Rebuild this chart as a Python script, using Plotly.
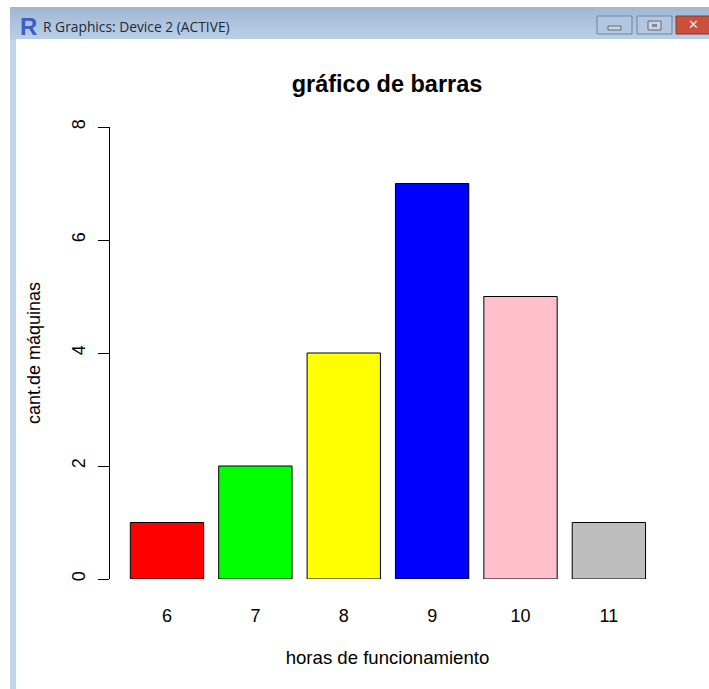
import plotly.graph_objects as go

hours = ["6", "7", "8", "9", "10", "11"]
machines = [1, 2, 4, 7, 5, 1]
colors = ["#ff0000", "#00ff00", "#ffff00", "#0000ff", "#ffc0cb", "#bebebe"]
y_ticks = [0, 2, 4, 6, 8]
chart_title = "gráfico de barras"
x_title = "horas de funcionamiento"
y_title = "cant.de máquinas"
window_title = "R Graphics: Device 2 (ACTIVE)"

W, H = 709, 689
L, R, T, B = 110, 44, 127, 110
FONT = "Liberation Sans, Arial, sans-serif"

def px(x):
    return (x - L) / (W - L - R)

def py(y):
    return 1 - (y - T) / (H - T - B)

def rect(x0, y0, x1, y1, fill, line=None, width=1):
    return dict(type="rect", xref="paper", yref="paper", x0=px(x0), x1=px(x1), y0=py(y0), y1=py(y1),
                fillcolor=fill, line=dict(color=line or fill, width=width if line else 0), layer="below")

shapes = [rect(10, 7, 16, 689, "#bcd4ec")]
# title bar gradient
bar_cols = ["#a3b9d3", "#a6bcd6", "#a9bfd9", "#acc2dc", "#afc5df", "#b2c8e2", "#b5cbe5", "#b8cee8"]
for i, c in enumerate(bar_cols):
    shapes.append(rect(10, 7 + i * 4, 709, 7 + (i + 1) * 4, c))
# window buttons
shapes += [
    rect(597, 16, 632, 34, "#b3c8e0", "#6f83a0"),
    rect(637, 16, 672, 34, "#b3c8e0", "#6f83a0"),
    rect(676, 16, 712, 34, "#c8503c", "#8a3a30"),
    rect(608, 26, 621, 30, "#d0d4da", "#5f6b7c"),
    rect(648, 21, 661, 30, "#d0d4da", "#5f6b7c"),
    rect(652, 24, 657, 27, "#7d8ba0"),
]

fig = go.Figure(go.Bar(
    x=list(range(len(hours))), y=machines, width=0.83,
    marker=dict(color=colors, line=dict(color="#000000", width=1)),
    hoverinfo="skip",
))

fig.update_layout(
    width=W, height=H, autosize=False,
    margin=dict(l=L, r=R, t=T, b=B, pad=0),
    paper_bgcolor="#ffffff", plot_bgcolor="#ffffff",
    showlegend=False, shapes=shapes,
    font=dict(family=FONT, color="#000000", size=18),
    title=dict(text="<b>" + chart_title + "</b>", font=dict(family=FONT, size=23.5, color="#000000"),
               x=387 / W, xref="container", xanchor="center",
               y=1 - 84 / H, yref="container", yanchor="middle"),
    xaxis=dict(range=[-0.645, 5.635], tickmode="array", tickvals=list(range(len(hours))), ticktext=hours,
               showgrid=False, zeroline=False, showline=False, ticks="", ticklabelstandoff=24,
               tickfont=dict(size=18),
               title=dict(text=x_title, font=dict(size=18.6), standoff=25)),
    yaxis=dict(range=[0, 8], tickmode="array", tickvals=y_ticks, tickangle=-90,
               showgrid=False, zeroline=False, showline=True, linecolor="#000000", linewidth=1,
               ticks="outside", ticklen=11, tickcolor="#000000", tickwidth=1, ticklabelstandoff=6,
               tickfont=dict(size=18),
               title=dict(text=y_title, font=dict(size=18), standoff=23)),
    annotations=[
        dict(text=window_title, xref="paper", yref="paper", x=px(41), y=py(26), xanchor="left", yanchor="middle",
             showarrow=False, font=dict(family="Open Sans, sans-serif", size=13.8, color="#1f2a38")),
        dict(text="<b>R</b>", xref="paper", yref="paper", x=px(28), y=py(26), xanchor="center", yanchor="middle",
             showarrow=False, font=dict(family=FONT, size=24, color="#3a5fc8")),
        dict(text="<b>✕</b>", xref="paper", yref="paper", x=px(693), y=py(25), xanchor="center", yanchor="middle",
             showarrow=False, font=dict(family="DejaVu Sans, sans-serif", size=13, color="#e4e4e4")),
    ],
)

fig.write_html("out.html", config={"displayModeBar": False},
               post_script="document.body.style.margin='0';document.documentElement.style.overflow='hidden';")
